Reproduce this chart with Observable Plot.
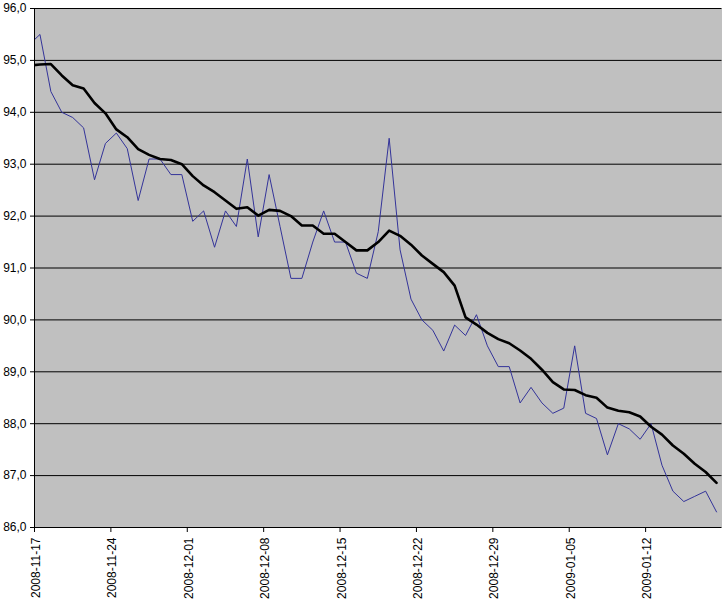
<!DOCTYPE html>
<html>
<head>
<meta charset="utf-8">
<script src="https://cdn.jsdelivr.net/npm/d3@7"></script>
<script src="https://cdn.jsdelivr.net/npm/@observablehq/plot@0.6"></script>
<style>
  html, body { margin: 0; padding: 0; background: #ffffff; }
  #chart svg { display: block; }
</style>
</head>
<body>
<div id="chart"></div>
<script>
// Daily values, first entry is 2008-11-16 (partly outside the visible range), last 2009-01-18
const firstDay = "2008-11-16";
const dailyValues = [
  95.3,
  95.5, 94.4, 94.0, 93.9, 93.7, 92.7, 93.4, 93.6, 93.3, 92.3,
  93.1, 93.1, 92.8, 92.8, 91.9, 92.1, 91.4, 92.1, 91.8, 93.1,
  91.6, 92.8, 91.8, 90.8, 90.8, 91.5, 92.1, 91.5, 91.5, 90.9,
  90.8, 91.7, 93.5, 91.35, 90.4, 90.0, 89.8, 89.4, 89.9, 89.7,
  90.1, 89.5, 89.1, 89.1, 88.4, 88.7, 88.4, 88.2, 88.3, 89.5,
  88.2, 88.1, 87.4, 88.0, 87.9, 87.7, 88.0, 87.2, 86.7, 86.5,
  86.6, 86.7, 86.3
];
const averageValues = [
  94.90,
  94.92, 94.93, 94.71, 94.52, 94.46, 94.18, 93.98, 93.67, 93.52, 93.29,
  93.18, 93.10, 93.08, 93.00, 92.77, 92.59, 92.46, 92.30, 92.14, 92.17,
  92.01, 92.12, 92.10, 92.00, 91.82, 91.82, 91.66, 91.66, 91.50, 91.34,
  91.34, 91.50, 91.72, 91.62, 91.45, 91.24, 91.08, 90.92, 90.66, 90.05,
  89.91, 89.75, 89.63, 89.55, 89.41, 89.25, 89.04, 88.80, 88.66, 88.65,
  88.55, 88.50, 88.31, 88.25, 88.22, 88.14, 87.94, 87.79, 87.58, 87.42,
  87.23, 87.07, 86.86
];
const xTickLabels = ["2008-11-17", "2008-11-24", "2008-12-01", "2008-12-08", "2008-12-15",
                     "2008-12-22", "2008-12-29", "2009-01-05", "2009-01-12"];
const yTicks = [86, 87, 88, 89, 90, 91, 92, 93, 94, 95, 96];
const xStart = "2008-11-17";
const xEnd = "2009-01-19";

const dayMs = 24 * 3600 * 1000;
const base = new Date(firstDay + "T12:00:00Z").getTime();
const daily = dailyValues.map((v, i) => ({date: new Date(base + i * dayMs), value: v}));
const average = averageValues.map((v, i) => ({date: new Date(base + i * dayMs), value: v}));
const tickDates = xTickLabels.map(s => new Date(s + "T00:00:00Z"));

const font = "'Liberation Sans', Arial, sans-serif";

const chart = Plot.plot({
  width: 725,
  height: 601,
  marginLeft: 34,
  marginRight: 3.5,
  marginTop: 8,
  marginBottom: 74,
  style: {fontFamily: font, fontSize: "12px", color: "#000", background: "#fff"},
  x: {type: "utc", domain: [new Date(xStart + "T00:00:00Z"), new Date(xEnd + "T00:00:00Z")]},
  y: {domain: [86, 96]},
  marks: [
    Plot.frame({fill: "#c0c0c0", stroke: "none"}),
    Plot.ruleY(yTicks, {stroke: "#000", strokeWidth: 1}),
    Plot.line(daily, {x: "date", y: "value", stroke: "#333399", strokeWidth: 1, clip: true}),
    Plot.line(average, {x: "date", y: "value", stroke: "#000", strokeWidth: 2.6, clip: true}),
    Plot.ruleX([new Date(xStart + "T00:00:00Z")], {stroke: "#000", strokeWidth: 1}),
    Plot.axisY({ticks: yTicks, tickSize: 4, tickPadding: 4,
      tickFormat: d => d.toFixed(1).replace(".", ","), label: null, fontSize: 12}),
    Plot.axisX({ticks: tickDates, tickSize: 5, tickFormat: () => "", label: null}),
    Plot.text(tickDates, {x: d => d, frameAnchor: "bottom",
      text: (d, i) => xTickLabels[i], rotate: -90, textAnchor: "end",
      dx: 5.5, dy: 10, fontSize: 12, fill: "#000"})
  ]
});
document.getElementById("chart").appendChild(chart);
</script>
</body>
</html>
